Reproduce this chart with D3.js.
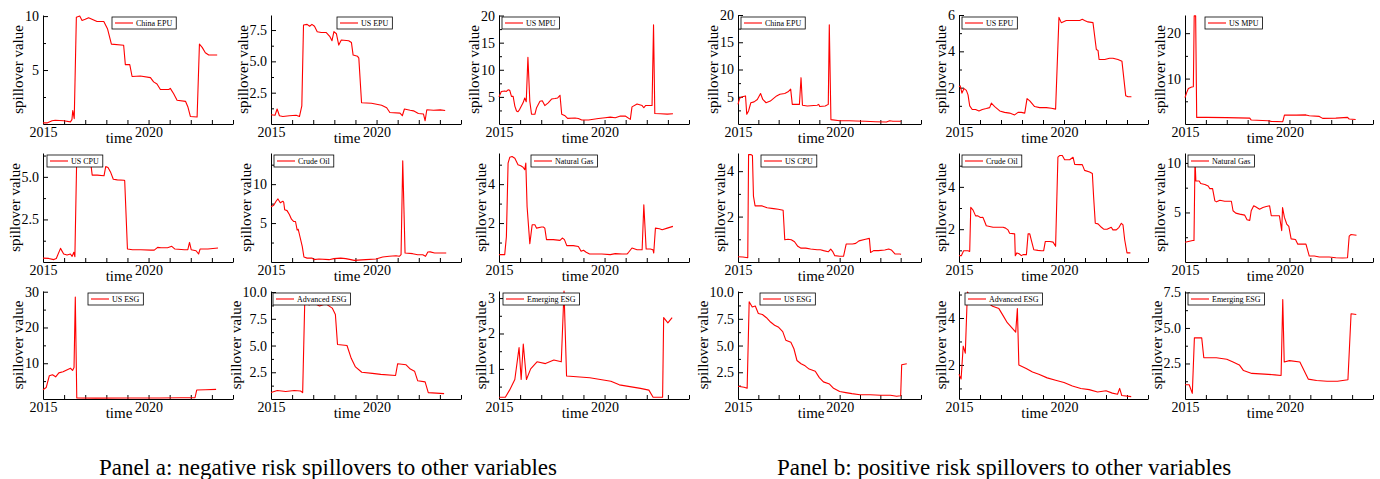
<!DOCTYPE html>
<html>
<head>
<meta charset="utf-8">
<script src="https://cdn.jsdelivr.net/npm/d3@7"></script>
<style>
  body { margin: 0; background: #fff; }
  svg { display: block; }
  text { font-family: "Liberation Serif", "Times New Roman", serif; fill: #000; }
</style>
</head>
<body>
<div id="chart"></div>
<script>
const variableNames = ['China EPU', 'US EPU', 'US MPU', 'US CPU', 'Crude Oil', 'Natural Gas', 'US ESG', 'Advanced ESG', 'Emerging ESG'];
const panelTitles = ['Panel a: negative risk spillovers to other variables', 'Panel b: positive risk spillovers to other variables'];

// [year, spillover value]
const negChinaEPU = [[2015,0.1],[2015.19,0.1],[2015.43,0.3],[2015.58,0.35],[2015.98,0.3],[2016.3,0.2],[2016.37,0.4],[2016.41,1.25],[2016.48,0.5],[2016.58,9.9],[2016.74,10],[2016.85,9.6],[2017,9.7],[2017.16,9.85],[2017.56,9.5],[2017.88,9.5],[2018.06,8.8],[2018.24,7.4],[2018.82,7.3],[2018.9,5.5],[2019.11,5.5],[2019.22,4.4],[2019.61,4.45],[2020.09,4.3],[2020.24,3.9],[2020.4,3.7],[2020.56,3.2],[2020.96,3.2],[2021.03,3.3],[2021.19,2.8],[2021.35,2.2],[2021.75,2.1],[2021.86,1.6],[2021.98,0.7],[2022.3,0.65],[2022.41,7.4],[2022.54,7.1],[2022.69,6.6],[2022.85,6.4],[2023.25,6.4]];
const negUSEPU = [[2015,0.74],[2015.19,0.7],[2015.29,1.2],[2015.4,0.66],[2015.56,0.6],[2015.87,0.66],[2016.19,0.7],[2016.35,0.6],[2016.46,1.45],[2016.54,7.9],[2016.71,7.95],[2016.83,7.8],[2016.94,7.95],[2017.06,7.8],[2017.19,7.37],[2017.38,7.3],[2017.62,7.3],[2017.78,7.0],[2017.89,6.65],[2017.98,7.37],[2018.1,7.2],[2018.21,6.3],[2018.33,6.7],[2018.68,6.65],[2018.81,6.5],[2018.89,5.5],[2019.1,5.4],[2019.16,5.26],[2019.29,1.7],[2019.76,1.66],[2020.24,1.5],[2020.48,1.3],[2020.63,0.92],[2021.11,0.87],[2021.22,0.66],[2021.32,1.2],[2021.59,1.1],[2021.75,1.05],[2021.98,0.84],[2022.22,0.8],[2022.3,0.26],[2022.38,1.14],[2022.7,1.1],[2023.02,1.13],[2023.25,1.08]];
const negUSMPU = [[2015,5.0],[2015.11,6.0],[2015.27,6.1],[2015.35,6.0],[2015.43,6.3],[2015.51,6.2],[2015.59,5.1],[2015.67,5.1],[2015.75,3.3],[2015.83,2.4],[2015.9,2.25],[2015.98,2.7],[2016.14,3.9],[2016.22,4.8],[2016.29,4.1],[2016.37,12.3],[2016.46,4.2],[2016.54,1.8],[2016.7,1.8],[2016.78,3.0],[2016.94,4.2],[2017.05,4.3],[2017.17,3.4],[2017.33,3.9],[2017.49,4.6],[2017.65,4.7],[2017.78,4.8],[2017.89,5.3],[2017.97,1.8],[2018.13,1.5],[2018.25,1.03],[2018.6,1.1],[2018.76,1.0],[2018.92,0.73],[2019.24,0.73],[2019.71,1.0],[2020.03,1.15],[2020.27,1.27],[2020.51,1.15],[2020.75,1.46],[2020.98,1.46],[2021.22,0.85],[2021.3,3.16],[2021.54,3.7],[2021.78,3.4],[2021.86,3.0],[2021.94,3.4],[2022.17,3.4],[2022.25,3.4],[2022.32,18.3],[2022.38,1.94],[2022.65,1.9],[2022.97,1.82],[2023.24,1.88]];
const negUSCPU = [[2015,0.23],[2015.27,0.21],[2015.51,0.14],[2015.63,0.21],[2015.83,0.8],[2015.98,0.47],[2016.14,0.41],[2016.3,0.47],[2016.38,0.33],[2016.46,0.57],[2016.51,0.31],[2016.59,5.64],[2016.7,5.68],[2016.86,5.64],[2017.02,5.74],[2017.17,5.88],[2017.25,5.94],[2017.33,5.1],[2017.57,5.1],[2017.89,5.06],[2017.97,5.6],[2018.08,5.55],[2018.21,5.25],[2018.33,4.86],[2018.52,4.82],[2018.84,4.8],[2018.87,4.77],[2019,0.76],[2019.24,0.72],[2019.63,0.72],[2020.11,0.7],[2020.27,0.7],[2020.43,0.86],[2020.59,0.84],[2020.9,0.84],[2021.1,0.92],[2021.25,0.76],[2021.7,0.72],[2021.86,0.72],[2021.94,1.15],[2022.02,0.72],[2022.25,0.66],[2022.37,0.47],[2022.44,0.76],[2022.81,0.76],[2023.29,0.82]];
const negCrudeOil = [[2015,7.1],[2015.13,7.3],[2015.24,7.8],[2015.33,8.1],[2015.44,7.6],[2015.56,7.8],[2015.6,7.7],[2015.65,6.7],[2015.76,6.6],[2015.87,6.1],[2015.97,5.5],[2016.08,5.2],[2016.16,5.2],[2016.24,4.1],[2016.29,4.2],[2016.35,3.5],[2016.48,2.0],[2016.56,0.64],[2016.71,0.5],[2016.95,0.5],[2017.03,0.3],[2017.27,0.38],[2017.75,0.3],[2017.98,0.43],[2018.3,0.5],[2018.54,0.43],[2018.78,0.3],[2018.94,0.21],[2019.49,0.3],[2019.97,0.38],[2020.29,0.64],[2020.6,0.73],[2020.92,0.8],[2021.08,0.73],[2021.16,0.94],[2021.24,13.0],[2021.35,1.15],[2021.71,1.07],[2021.95,0.94],[2022.19,0.94],[2022.32,0.73],[2022.43,1.28],[2022.54,1.3],[2022.75,1.15],[2023.3,1.15]];
const negNaturalGas = [[2015,0.38],[2015.27,0.38],[2015.35,1.3],[2015.43,5.08],[2015.51,5.38],[2015.62,5.42],[2015.75,5.33],[2015.9,5.0],[2016.03,4.94],[2016.14,4.87],[2016.22,4.74],[2016.27,5.08],[2016.33,2.85],[2016.46,0.94],[2016.57,1.91],[2016.7,1.91],[2016.78,1.74],[2017.02,1.8],[2017.1,1.8],[2017.17,1.74],[2017.25,1.15],[2017.57,1.15],[2017.89,1.11],[2018,1.23],[2018.1,1.15],[2018.21,0.84],[2018.52,0.84],[2018.76,0.8],[2018.89,0.55],[2019,0.6],[2019.13,0.5],[2019.29,0.41],[2019.56,0.41],[2019.87,0.41],[2020.27,0.38],[2020.51,0.43],[2020.83,0.41],[2021.06,0.41],[2021.14,0.5],[2021.3,0.72],[2021.54,0.63],[2021.78,0.63],[2021.86,2.94],[2021.97,0.67],[2022.17,0.67],[2022.29,0.63],[2022.33,0.46],[2022.41,1.74],[2022.6,1.71],[2022.73,1.66],[2022.97,1.74],[2023.24,1.83]];
const negUSESG = [[2015,2.6],[2015.15,3.2],[2015.3,6.5],[2015.45,6.8],[2015.6,6.2],[2015.75,7.3],[2015.95,7.6],[2016.15,8.2],[2016.3,8.6],[2016.4,8.0],[2016.47,8.8],[2016.53,28.5],[2016.6,0.3],[2017.5,0.25],[2019,0.3],[2020.5,0.3],[2021.5,0.35],[2022.2,0.35],[2022.28,2.5],[2022.7,2.6],[2023.2,2.7]];
const negAdvancedESG = [[2015,0.6],[2015.3,0.8],[2015.7,0.7],[2016.1,0.8],[2016.4,0.75],[2016.5,0.6],[2016.6,9.2],[2016.8,8.8],[2017,9.0],[2017.3,8.7],[2017.6,8.9],[2017.9,8.5],[2018.05,7.9],[2018.15,5.1],[2018.6,5.0],[2018.8,3.8],[2019.0,3.0],[2019.3,2.5],[2019.8,2.4],[2020.2,2.3],[2020.9,2.2],[2021.0,3.3],[2021.4,3.2],[2021.6,2.8],[2021.8,2.6],[2021.95,1.7],[2022.3,1.6],[2022.45,0.6],[2023.2,0.5]];
const negEmergingESG = [[2015,0.2],[2015.3,0.2],[2015.5,0.4],[2015.75,0.7],[2015.95,1.6],[2016.05,0.7],[2016.15,1.7],[2016.3,0.7],[2016.5,1.0],[2016.8,1.2],[2017.2,1.15],[2017.6,1.25],[2017.95,1.2],[2018.08,3.2],[2018.2,0.8],[2019.3,0.75],[2019.8,0.7],[2020.3,0.65],[2020.7,0.55],[2021.7,0.45],[2022.1,0.4],[2022.3,0.2],[2022.75,0.2],[2022.8,2.45],[2023.0,2.3],[2023.2,2.45]];

const posChinaEPU = [[2015,3.6],[2015.08,4.7],[2015.21,5.0],[2015.37,5.15],[2015.43,1.8],[2015.52,2.4],[2015.63,3.9],[2015.79,4.06],[2015.95,4.5],[2016.11,5.6],[2016.22,4.5],[2016.38,3.9],[2016.59,4.2],[2016.75,4.7],[2016.9,5.15],[2017.06,5.45],[2017.3,5.6],[2017.46,5.9],[2017.59,6.4],[2017.67,3.6],[2017.78,3.6],[2018.02,3.6],[2018.1,8.5],[2018.17,3.45],[2018.41,3.3],[2018.89,3.45],[2018.97,3.6],[2019.02,3.2],[2019.29,3.3],[2019.44,3.6],[2019.49,18.2],[2019.57,0.8],[2020,0.6],[2020.48,0.6],[2020.79,0.55],[2021.27,0.5],[2021.75,0.42],[2022.3,0.36],[2022.46,0.6],[2022.62,0.5],[2023.02,0.5]];
const posUSEPU = [[2015,2.05],[2015.06,2.1],[2015.14,1.7],[2015.24,1.95],[2015.35,1.85],[2015.43,1.6],[2015.51,1.0],[2015.63,0.8],[2015.79,0.8],[2015.95,0.72],[2016.11,0.8],[2016.3,0.85],[2016.46,0.9],[2016.54,1.15],[2016.7,0.96],[2016.94,0.72],[2017.17,0.64],[2017.41,0.6],[2017.65,0.5],[2017.81,0.64],[2017.97,0.64],[2018.13,0.6],[2018.24,1.4],[2018.37,1.27],[2018.6,0.96],[2018.84,0.9],[2019.16,0.9],[2019.4,0.87],[2019.6,0.82],[2019.76,5.87],[2019.87,5.58],[2020.11,5.7],[2020.43,5.7],[2020.75,5.7],[2020.87,5.76],[2020.98,5.7],[2021.14,5.62],[2021.38,5.58],[2021.54,4.1],[2021.62,4.05],[2021.67,3.55],[2021.94,3.55],[2022.17,3.62],[2022.33,3.62],[2022.57,3.55],[2022.76,3.45],[2022.94,1.55],[2023.05,1.5],[2023.21,1.5]];
const posUSMPU = [[2015,5.8],[2015.08,6.9],[2015.16,7.8],[2015.32,8.15],[2015.4,8.2],[2015.44,23.8],[2015.51,23.8],[2015.56,1.45],[2016.03,1.45],[2016.98,1.4],[2018.1,1.3],[2018.17,0.87],[2018.97,0.73],[2019.13,0.58],[2019.68,0.5],[2019.76,1.96],[2020.32,1.96],[2020.79,2.0],[2020.95,1.8],[2021.43,1.67],[2021.59,1.24],[2022.22,1.3],[2022.78,1.45],[2022.86,1.1],[2023.17,1.0]];
const posUSCPU = [[2015,0.23],[2015.24,0.22],[2015.48,0.19],[2015.52,4.73],[2015.63,4.73],[2015.71,4.69],[2015.76,2.9],[2015.84,2.47],[2016.03,2.47],[2016.19,2.47],[2016.43,2.39],[2016.75,2.35],[2016.98,2.32],[2017.22,2.28],[2017.3,0.98],[2017.46,1.0],[2017.62,0.98],[2017.78,0.89],[2017.94,0.69],[2018.1,0.61],[2018.33,0.61],[2018.57,0.57],[2018.89,0.54],[2019.05,0.54],[2019.21,0.5],[2019.44,0.45],[2019.56,0.57],[2019.65,0.47],[2019.76,0.28],[2020,0.25],[2020.19,0.25],[2020.32,0.79],[2020.63,0.79],[2020.79,0.82],[2020.95,0.93],[2021.27,1.0],[2021.46,1.04],[2021.52,0.42],[2021.67,0.5],[2021.9,0.5],[2022.22,0.53],[2022.41,0.57],[2022.54,0.53],[2022.73,0.35],[2022.94,0.35],[2023.02,0.34]];
const posCrudeOil = [[2015,0.75],[2015.11,0.75],[2015.22,0.98],[2015.43,0.98],[2015.51,0.95],[2015.56,3.03],[2015.67,2.9],[2015.79,2.63],[2015.9,2.63],[2016.02,2.55],[2016.14,2.56],[2016.22,2.36],[2016.3,2.16],[2016.46,2.13],[2016.62,2.09],[2016.86,2.09],[2017.1,2.09],[2017.22,2.05],[2017.33,1.97],[2017.41,1.81],[2017.65,1.78],[2017.68,0.75],[2017.76,0.88],[2017.86,0.84],[2017.97,0.75],[2018.05,0.8],[2018.21,0.8],[2018.29,1.78],[2018.37,1.78],[2018.44,1.5],[2018.56,1.03],[2018.76,1.0],[2018.92,0.98],[2019.03,0.98],[2019.11,1.42],[2019.32,1.42],[2019.48,1.39],[2019.6,1.19],[2019.71,5.4],[2019.79,5.48],[2019.92,5.48],[2020.03,5.28],[2020.27,5.28],[2020.43,5.4],[2020.51,5.06],[2020.75,5.05],[2020.87,5.05],[2020.98,4.78],[2021.22,4.7],[2021.35,4.63],[2021.41,3.53],[2021.49,2.28],[2021.62,2.25],[2021.78,2.09],[2021.89,2.0],[2022.05,2.0],[2022.25,2.09],[2022.33,1.97],[2022.49,1.97],[2022.62,2.09],[2022.73,2.28],[2022.81,2.2],[2022.89,1.5],[2023,0.88],[2023.16,0.88]];
const posNaturalGas = [[2015,2.0],[2015.16,2.07],[2015.37,2.17],[2015.43,2.17],[2015.48,10.4],[2015.52,8.17],[2015.68,8.17],[2015.75,7.93],[2015.95,7.83],[2016.11,7.67],[2016.19,7.4],[2016.32,7.4],[2016.43,6.17],[2016.51,6.07],[2016.67,6.23],[2016.9,6.13],[2017.22,6.13],[2017.3,5.17],[2017.43,4.93],[2017.62,4.83],[2017.86,4.73],[2017.97,4.27],[2018.1,4.2],[2018.17,5.17],[2018.29,5.67],[2018.38,5.57],[2018.57,5.33],[2018.73,5.5],[2018.89,5.6],[2019.05,5.67],[2019.13,4.67],[2019.44,4.67],[2019.52,4.67],[2019.63,3.17],[2019.67,5.5],[2019.76,4.5],[2019.87,3.83],[2019.97,3.6],[2020.08,2.33],[2020.29,2.27],[2020.4,1.8],[2020.79,1.8],[2020.95,0.6],[2021.19,0.6],[2021.43,0.5],[2021.9,0.5],[2022.22,0.43],[2022.54,0.4],[2022.78,0.43],[2022.86,2.6],[2022.94,2.77],[2023.21,2.7]];
const posUSESG = [[2015,1.2],[2015.3,1.1],[2015.45,1.0],[2015.55,9.1],[2015.7,8.6],[2015.85,8.7],[2016,8.0],[2016.2,7.9],[2016.4,7.6],[2016.6,7.2],[2016.8,6.9],[2017,6.7],[2017.2,6.3],[2017.35,5.5],[2017.6,5.3],[2017.75,4.7],[2017.9,3.6],[2018.1,3.3],[2018.3,3.1],[2018.5,2.8],[2018.8,2.6],[2019,2.0],[2019.2,1.6],[2019.5,1.4],[2019.7,1.0],[2020,0.7],[2020.3,0.6],[2020.6,0.5],[2021,0.4],[2021.5,0.4],[2022,0.35],[2022.5,0.35],[2022.8,0.25],[2023,0.3],[2023.05,3.2],[2023.3,3.3]];
const posAdvancedESG = [[2015,1.6],[2015.1,1.4],[2015.2,2.8],[2015.3,2.5],[2015.4,5.1],[2015.6,4.9],[2015.8,5.0],[2016,4.8],[2016.3,4.7],[2016.6,4.5],[2016.9,4.4],[2017.1,4.1],[2017.3,3.8],[2017.5,3.6],[2017.7,3.4],[2017.78,4.4],[2017.85,2.0],[2018.2,1.85],[2018.5,1.7],[2018.8,1.6],[2019.2,1.45],[2019.6,1.35],[2020,1.25],[2020.4,1.1],[2020.8,1.0],[2021.2,0.95],[2021.6,0.85],[2022,0.9],[2022.3,0.8],[2022.55,0.75],[2022.65,1.0],[2022.75,0.7],[2023.2,0.65]];
const posEmergingESG = [[2015,1.0],[2015.2,1.0],[2015.35,0.4],[2015.45,4.3],[2015.8,4.3],[2015.9,2.9],[2016.5,2.9],[2017,2.8],[2017.3,2.6],[2017.6,2.4],[2017.8,2.0],[2018.2,1.8],[2018.8,1.75],[2019.3,1.7],[2019.6,1.65],[2019.68,7.0],[2019.75,2.6],[2020,2.7],[2020.5,2.6],[2020.9,1.4],[2021.3,1.3],[2021.8,1.25],[2022.3,1.25],[2022.8,1.35],[2022.95,6.0],[2023.2,5.95]];

// reading order: 3 rows x 6 columns (columns 0-2 panel a, 3-5 panel b)
const seriesGrid = [
  negChinaEPU, negUSEPU, negUSMPU, posChinaEPU, posUSEPU, posUSMPU,
  negUSCPU, negCrudeOil, negNaturalGas, posUSCPU, posCrudeOil, posNaturalGas,
  negUSESG, negAdvancedESG, negEmergingESG, posUSESG, posAdvancedESG, posEmergingESG
];
const yDomains = [
  [0, 10.1], [0, 8.7], [0, 20.1], [0, 20], [0, 6], [0, 24],
  [0, 6.4], [0, 14], [0, 5.6], [0, 4.8], [0.45, 5.6], [0, 11],
  [0, 30.2], [0, 10.1], [0.15, 3.2], [0, 10.1], [0.55, 5.15], [0, 7.6]
];
const yTicks = [
  [5, 10], [2.5, 5, 7.5], [5, 10, 15, 20], [5, 10, 15, 20], [2, 4, 6], [10, 20],
  [2.5, 5], [5, 10], [2, 4], [2, 4], [2, 4], [5, 10],
  [10, 20, 30], [2.5, 5, 7.5, 10], [1, 2, 3], [2.5, 5, 7.5, 10], [2, 4], [2.5, 5, 7.5]
];
const yFormats = [
  'd', '.1f', 'd', 'd', 'd', 'd',
  '.1f', 'd', 'd', 'd', 'd', 'd',
  'd', '.1f', 'd', '.1f', 'd', '.1f'
];
const yearTicks = d3.range(2015, 2025);

// layout
const W = 1380, H = 479;
const FONT = '"Liberation Serif", "Times New Roman", serif';
const colLeft = [43, 271, 499, 738, 959, 1185];
const colRight = [233, 461, 689, 921, 1148, 1373];
const rowTop = [15, 153, 291];
const rowBottom = [124, 262, 399];
const legendDx = [69, 66, 3, 3, 3, 20, 4, 3, 32, 23, 3, 3, 45, 2, 4, 22, 6, 3];

const svg = d3.select('#chart').append('svg')
  .attr('width', W)
  .attr('height', H)
  .attr('font-family', FONT);

seriesGrid.forEach((data, i) => {
  const row = Math.floor(i / 6), col = i % 6;
  const label = variableNames[row * 3 + (col % 3)];
  const left = colLeft[col], right = colRight[col];
  const top = rowTop[row], bottom = rowBottom[row];

  const x = d3.scaleLinear().domain([2015, 2024]).range([left, right]);
  const y = d3.scaleLinear().domain(yDomains[i]).range([bottom, top]);

  const g = svg.append('g');

  // minor ticks on the y axis
  const step = yTicks[i][1] - yTicks[i][0];
  const minor = d3.range(Math.ceil(yDomains[i][0] / (step / 2)) * (step / 2), yDomains[i][1], step / 2)
    .filter(v => !yTicks[i].some(t => Math.abs(t - v) < 1e-9) && v > yDomains[i][0]);
  g.append('g')
    .attr('transform', 'translate(' + left + ',0)')
    .call(d3.axisLeft(y).tickValues(minor).tickFormat('').tickSizeInner(-3).tickSizeOuter(0))
    .call(a => a.select('.domain').remove());

  const yAxis = g.append('g')
    .attr('transform', 'translate(' + left + ',0)')
    .call(d3.axisLeft(y).tickValues(yTicks[i]).tickFormat(d3.format(yFormats[i])).tickSizeInner(-5).tickSizeOuter(0).tickPadding(4));

  const xAxis = g.append('g')
    .attr('transform', 'translate(0,' + bottom + ')')
    .call(d3.axisBottom(x).tickValues(yearTicks).tickFormat(d => d % 5 === 0 ? d : '').tickSizeInner(-4).tickSizeOuter(0).tickPadding(3));

  g.selectAll('g').attr('font-family', FONT).attr('font-size', 14);
  g.selectAll('.domain').attr('stroke', '#000').attr('stroke-width', 1);
  g.selectAll('.tick line').attr('stroke', '#000');

  // axis titles
  let tickW = 0;
  yAxis.selectAll('text').each(function () { tickW = Math.max(tickW, this.getComputedTextLength()); });
  g.append('text')
    .attr('transform', 'translate(' + (left - tickW - 11) + ',' + ((top + bottom) / 2) + ') rotate(-90)')
    .attr('text-anchor', 'middle')
    .attr('dy', '0.35em')
    .attr('font-size', 15)
    .text('spillover value');
  g.append('text')
    .attr('x', left + (right - left) * 0.4)
    .attr('y', bottom + 19)
    .attr('text-anchor', 'middle')
    .attr('font-size', 15)
    .text('time');

  g.append('path')
    .datum(data)
    .attr('fill', 'none')
    .attr('stroke', '#ff0000')
    .attr('stroke-width', 1.1)
    .attr('stroke-linejoin', 'round')
    .attr('d', d3.line().x(d => x(d[0])).y(d => y(d[1])));

  // legend
  const lg = g.append('g').attr('transform', 'translate(' + (left + legendDx[i]) + ',' + (top + 2) + ')');
  const box = lg.append('rect').attr('height', 12).attr('fill', '#fff').attr('stroke', '#000').attr('stroke-width', 0.8);
  lg.append('line').attr('x1', 3).attr('x2', 21).attr('y1', 6).attr('y2', 6).attr('stroke', '#ff0000').attr('stroke-width', 1.1);
  const lt = lg.append('text').attr('x', 24).attr('y', 9).attr('font-size', 8).text(label);
  box.attr('width', 24 + lt.node().getComputedTextLength() + 4);
});

svg.selectAll('.panel-title')
  .data(panelTitles)
  .join('text')
  .attr('class', 'panel-title')
  .attr('x', (d, i) => i === 0 ? 328 : 1004)
  .attr('y', 475)
  .attr('text-anchor', 'middle')
  .attr('font-size', 23)
  .text(d => d);
</script>
</body>
</html>
